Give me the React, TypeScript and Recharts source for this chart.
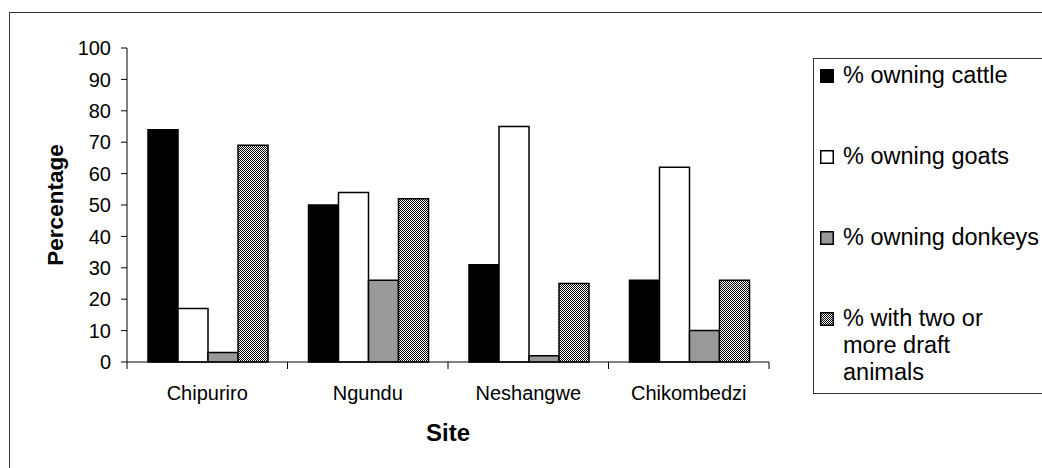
import React from "react";
import { BarChart, Bar, XAxis, YAxis, Legend, Label } from "recharts";

// Sites surveyed and share of households per livestock category (%)
const sites = ["Chipuriro", "Ngundu", "Neshangwe", "Chikombedzi"];
const cattle = [74, 50, 31, 26];
const goats = [17, 54, 75, 62];
const donkeys = [3, 26, 2, 10];
const draft = [69, 52, 25, 26];
const yTicks = [0, 10, 20, 30, 40, 50, 60, 70, 80, 90, 100];

const data = sites.map((site, i) => ({
  site,
  cattle: cattle[i],
  goats: goats[i],
  donkeys: donkeys[i],
  draft: draft[i],
}));

const FONT = '"Liberation Sans", Arial, Helvetica, sans-serif';

type SeriesDef = { key: string; name: string; lines: string[]; fill: string };

const series: SeriesDef[] = [
  { key: "cattle", name: "% owning cattle", lines: ["% owning cattle"], fill: "#000000" },
  { key: "goats", name: "% owning goats", lines: ["% owning goats"], fill: "#ffffff" },
  { key: "donkeys", name: "% owning donkeys", lines: ["% owning donkeys"], fill: "#999999" },
  {
    key: "draft",
    name: "% with two or more draft animals",
    lines: ["% with two or", "more draft", "animals"],
    fill: "url(#checker)",
  },
];

const CheckerDef = ({ id }: { id: string }) => (
  <defs>
    <pattern id={id} width="2" height="2" patternUnits="userSpaceOnUse">
      <rect x="0" y="0" width="2" height="2" fill="#ffffff" />
      <rect x="0" y="0" width="1" height="1" fill="#000000" />
      <rect x="1" y="1" width="1" height="1" fill="#000000" />
    </pattern>
  </defs>
);

// Category label centred in its band, with tick marks on the band edges
const SiteTick = (props: any) => {
  const { x, y, payload, index, width } = props;
  const half =
    payload && typeof payload.offset === "number" && payload.offset > 0
      ? payload.offset
      : width / (2 * sites.length);
  const isLast = index === sites.length - 1;
  return (
    <g>
      <line x1={x - half} x2={x - half} y1={y} y2={y + 7} stroke="#000" strokeWidth={1} />
      {isLast && (
        <line x1={x + half} x2={x + half} y1={y} y2={y + 7} stroke="#000" strokeWidth={1} />
      )}
      <text x={x} y={y + 38} textAnchor="middle" fill="#000" fontSize={20} fontFamily={FONT}>
        {payload.value}
      </text>
    </g>
  );
};

// Legend panel runs off the right edge of the chart area, so it has no right border
const LegendBox = () => (
  <div
    style={{
      boxSizing: "border-box",
      width: 320,
      minWidth: 320,
      height: 336,
      borderTop: "1px solid #333",
      borderBottom: "1px solid #333",
      borderLeft: "1px solid #333",
      background: "#fff",
      paddingTop: 3,
      fontFamily: FONT,
      fontSize: 23.5,
      color: "#000",
    }}
  >
    {series.map((s) => (
      <div
        key={s.key}
        style={{ display: "flex", alignItems: "flex-start", marginBottom: 54, lineHeight: "27px" }}
      >
        <svg width={14} height={14} style={{ marginLeft: 6, marginTop: 7, flex: "none" }}>
          {s.key === "draft" && <CheckerDef id="checker-legend" />}
          <rect
            x={0.75}
            y={0.75}
            width={12.5}
            height={12.5}
            fill={s.key === "draft" ? "url(#checker-legend)" : s.fill}
            stroke="#000"
            strokeWidth={1.5}
          />
        </svg>
        <div style={{ marginLeft: 9, whiteSpace: "nowrap" }}>
          {s.lines.map((ln, i) => (
            <div key={i}>{ln}</div>
          ))}
        </div>
      </div>
    ))}
  </div>
);

export default function App() {
  return (
    <div
      style={{
        position: "absolute",
        left: 0,
        top: 0,
        width: 1042,
        height: 468,
        overflow: "hidden",
        background: "#fff",
      }}
    >
      <div
        style={{
          position: "absolute",
          left: 9,
          top: 12,
          width: 1200,
          height: 600,
          border: "1px solid #333",
          boxSizing: "border-box",
        }}
      />
      <div style={{ position: "absolute", left: 0, top: 0 }}>
        <BarChart
          width={1042}
          height={468}
          data={data}
          margin={{ top: 48, right: 273, bottom: 6, left: 27 }}
          barCategoryGap={21}
          barGap={0}
        >
          <CheckerDef id="checker" />
          <XAxis
            dataKey="site"
            height={100}
            tickLine={false}
            tickSize={0}
            tickMargin={0}
            axisLine={{ stroke: "#000", strokeWidth: 1 }}
            tick={<SiteTick />}
            interval={0}
          >
            <Label
              value="Site"
              position="insideBottom"
              offset={21}
              style={{ fontFamily: FONT, fontSize: 24, fontWeight: "bold", fill: "#000" }}
            />
          </XAxis>
          <YAxis
            width={100}
            domain={[0, 100]}
            ticks={yTicks}
            interval={0}
            tickSize={6}
            tickMargin={10}
            axisLine={{ stroke: "#000", strokeWidth: 1 }}
            tickLine={{ stroke: "#000", strokeWidth: 1 }}
            tick={{ fill: "#000", fontSize: 20, fontFamily: FONT }}
          >
            <Label
              value="Percentage"
              angle={-90}
              position="insideLeft"
              offset={28}
              style={{
                fontFamily: FONT,
                fontSize: 22.5,
                fontWeight: "bold",
                fill: "#000",
                textAnchor: "middle",
              }}
            />
          </YAxis>
          <Legend
            layout="vertical"
            align="center"
            verticalAlign="middle"
            wrapperStyle={{
              position: "absolute",
              left: 813,
              top: 58,
              width: 320,
              height: 336,
              overflow: "visible",
              maxWidth: "none",
            }}
            content={() => <LegendBox />}
          />
          {series.map((s) => (
            <Bar
              key={s.key}
              dataKey={s.key}
              name={s.name}
              fill={s.fill}
              stroke="#000"
              strokeWidth={1.5}
              isAnimationActive={false}
            />
          ))}
        </BarChart>
      </div>
    </div>
  );
}
